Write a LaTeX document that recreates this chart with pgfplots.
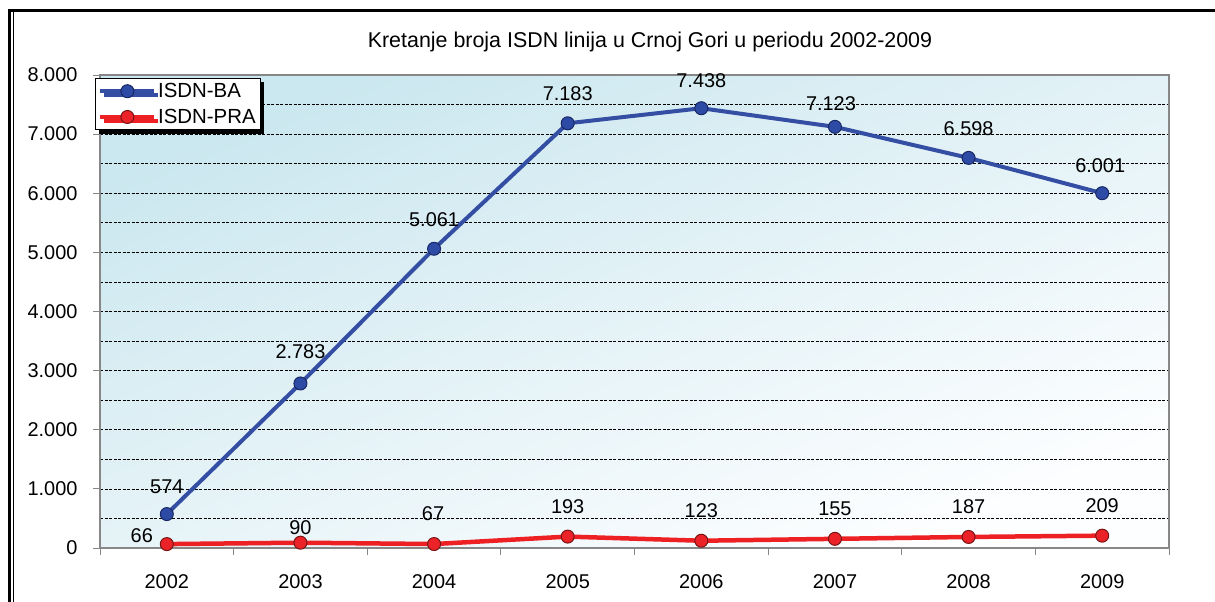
\documentclass[border=0pt]{standalone}
\usepackage{pgfplots}
\pgfplotsset{compat=1.18}
\usepackage{pgfplotstable}
\usepackage{fontspec}
\setmainfont{Liberation Sans}
\usetikzlibrary{shadows}
\definecolor{bluel}{RGB}{52,78,163}
\definecolor{bluem}{RGB}{45,75,165}
\definecolor{bluee}{RGB}{25,40,100}
\definecolor{redl}{RGB}{237,32,36}
\definecolor{redm}{RGB}{235,35,40}
\definecolor{rede}{RGB}{120,20,20}
\definecolor{bgA}{RGB}{203,231,239}
\definecolor{bgB}{RGB}{253,254,255}
\definecolor{axgray}{RGB}{135,135,135}

\pgfplotstableread{
x y dx dy
0 574 0 27
1 2783 0 32
2 5061 0 29
3 7183 0 30
4 7438 0 28
5 7123 -4 23
6 6598 0 29
7 6001 -2 28
}\ba
\pgfplotstableread{
x y dx dy
0 66 -25 8
1 90 0 15
2 67 -1 30
3 193 0 30
4 123 0 30
5 155 0 30
6 187 0 30
7 209 0 30
}\pra

\begin{document}
\begin{tikzpicture}[x=1bp,y=1bp]
\useasboundingbox (0,0) rectangle (1215,-602);
\draw[line width=3bp] (9.5,-602) -- (9.5,-11) -- (1215,-11);
\draw[line width=1.2bp] (13.5,-602) -- (13.5,-12);
\node[font=\fontsize{21.5}{25}\selectfont] at (650,-42) {Kretanje broja ISDN linija u Crnoj Gori u periodu 2002-2009};
\begin{axis}[
  at={(100bp,-548bp)}, anchor=south west,
  scale only axis, width=1069bp, height=473bp,
  xmin=-0.5, xmax=7.5, ymin=0, ymax=8000,
  xtick={0,...,7}, xticklabels={2002,2003,2004,2005,2006,2007,2008,2009},
  major x tick style={draw=none},
  minor xtick={-0.5,0.5,...,7.5},
  ytick={0,1000,...,8000}, minor ytick={500,1500,...,7500},
  minor y tick style={draw=none},
  ymajorgrids, yminorgrids,
  major grid style={black, dash pattern=on 3bp off 1.5bp, line width=0.7bp},
  minor grid style={black, dash pattern=on 3bp off 1.5bp, line width=0.7bp},
  axis line style={axgray, line width=1.5bp},
  tick style={axgray, line width=1bp},
  tick align=outside, tick pos=left,
  major tick length=7bp, minor tick length=7bp,
  scaled y ticks=false,
  /pgf/number format/1000 sep={.},
  /pgf/number format/assume math mode=true,
  tick label style={font=\fontsize{20}{24}\selectfont},
  xticklabel style={yshift=-16bp},
  yticklabel style={xshift=-12bp},
  axis background/.style={top color=bgA, bottom color=bgB, shading angle=22},
  legend style={at={(-0.005,0.994)}, anchor=north west, draw=black, line width=1bp,
    fill=white, font=\fontsize{20.5}{24}\selectfont,
    nodes={font=\fontsize{20.5}{24}\selectfont, inner sep=1.5bp},
    drop shadow={shadow xshift=4bp, shadow yshift=-4bp, fill=black, opacity=1},
    inner xsep=3bp, inner ysep=3.5bp, row sep=7bp},
  legend cell align=left,
  legend image code/.code={\draw[mark repeat=2,mark phase=2,#1] plot coordinates {(0bp,0bp) (27bp,0bp) (54bp,0bp)};},
  nodes near coords={\pgfmathprintnumber[1000 sep={.},assume math mode=true]{\pgfplotspointmeta}},
  visualization depends on={\thisrow{dx} \as \dx},
  visualization depends on={\thisrow{dy} \as \dy},
  every node near coord/.append style={anchor=center, xshift=\dx bp, yshift=\dy bp, font=\fontsize{20}{24}\selectfont, text=black},
]
\addplot[bluel, line width=4bp, mark=*, mark size=6.5bp,
  mark options={fill=bluem, draw=bluee, line width=1bp}]
  table[x=x, y=y, meta=y]{\ba};
\addlegendentry{ISDN-BA}
\addplot[redl, line width=4.5bp, mark=*, mark size=6.5bp,
  mark options={fill=redm, draw=rede, line width=1bp}]
  table[x=x, y=y, meta=y]{\pra};
\addlegendentry{ISDN-PRA}
\end{axis}
\end{tikzpicture}
\end{document}
